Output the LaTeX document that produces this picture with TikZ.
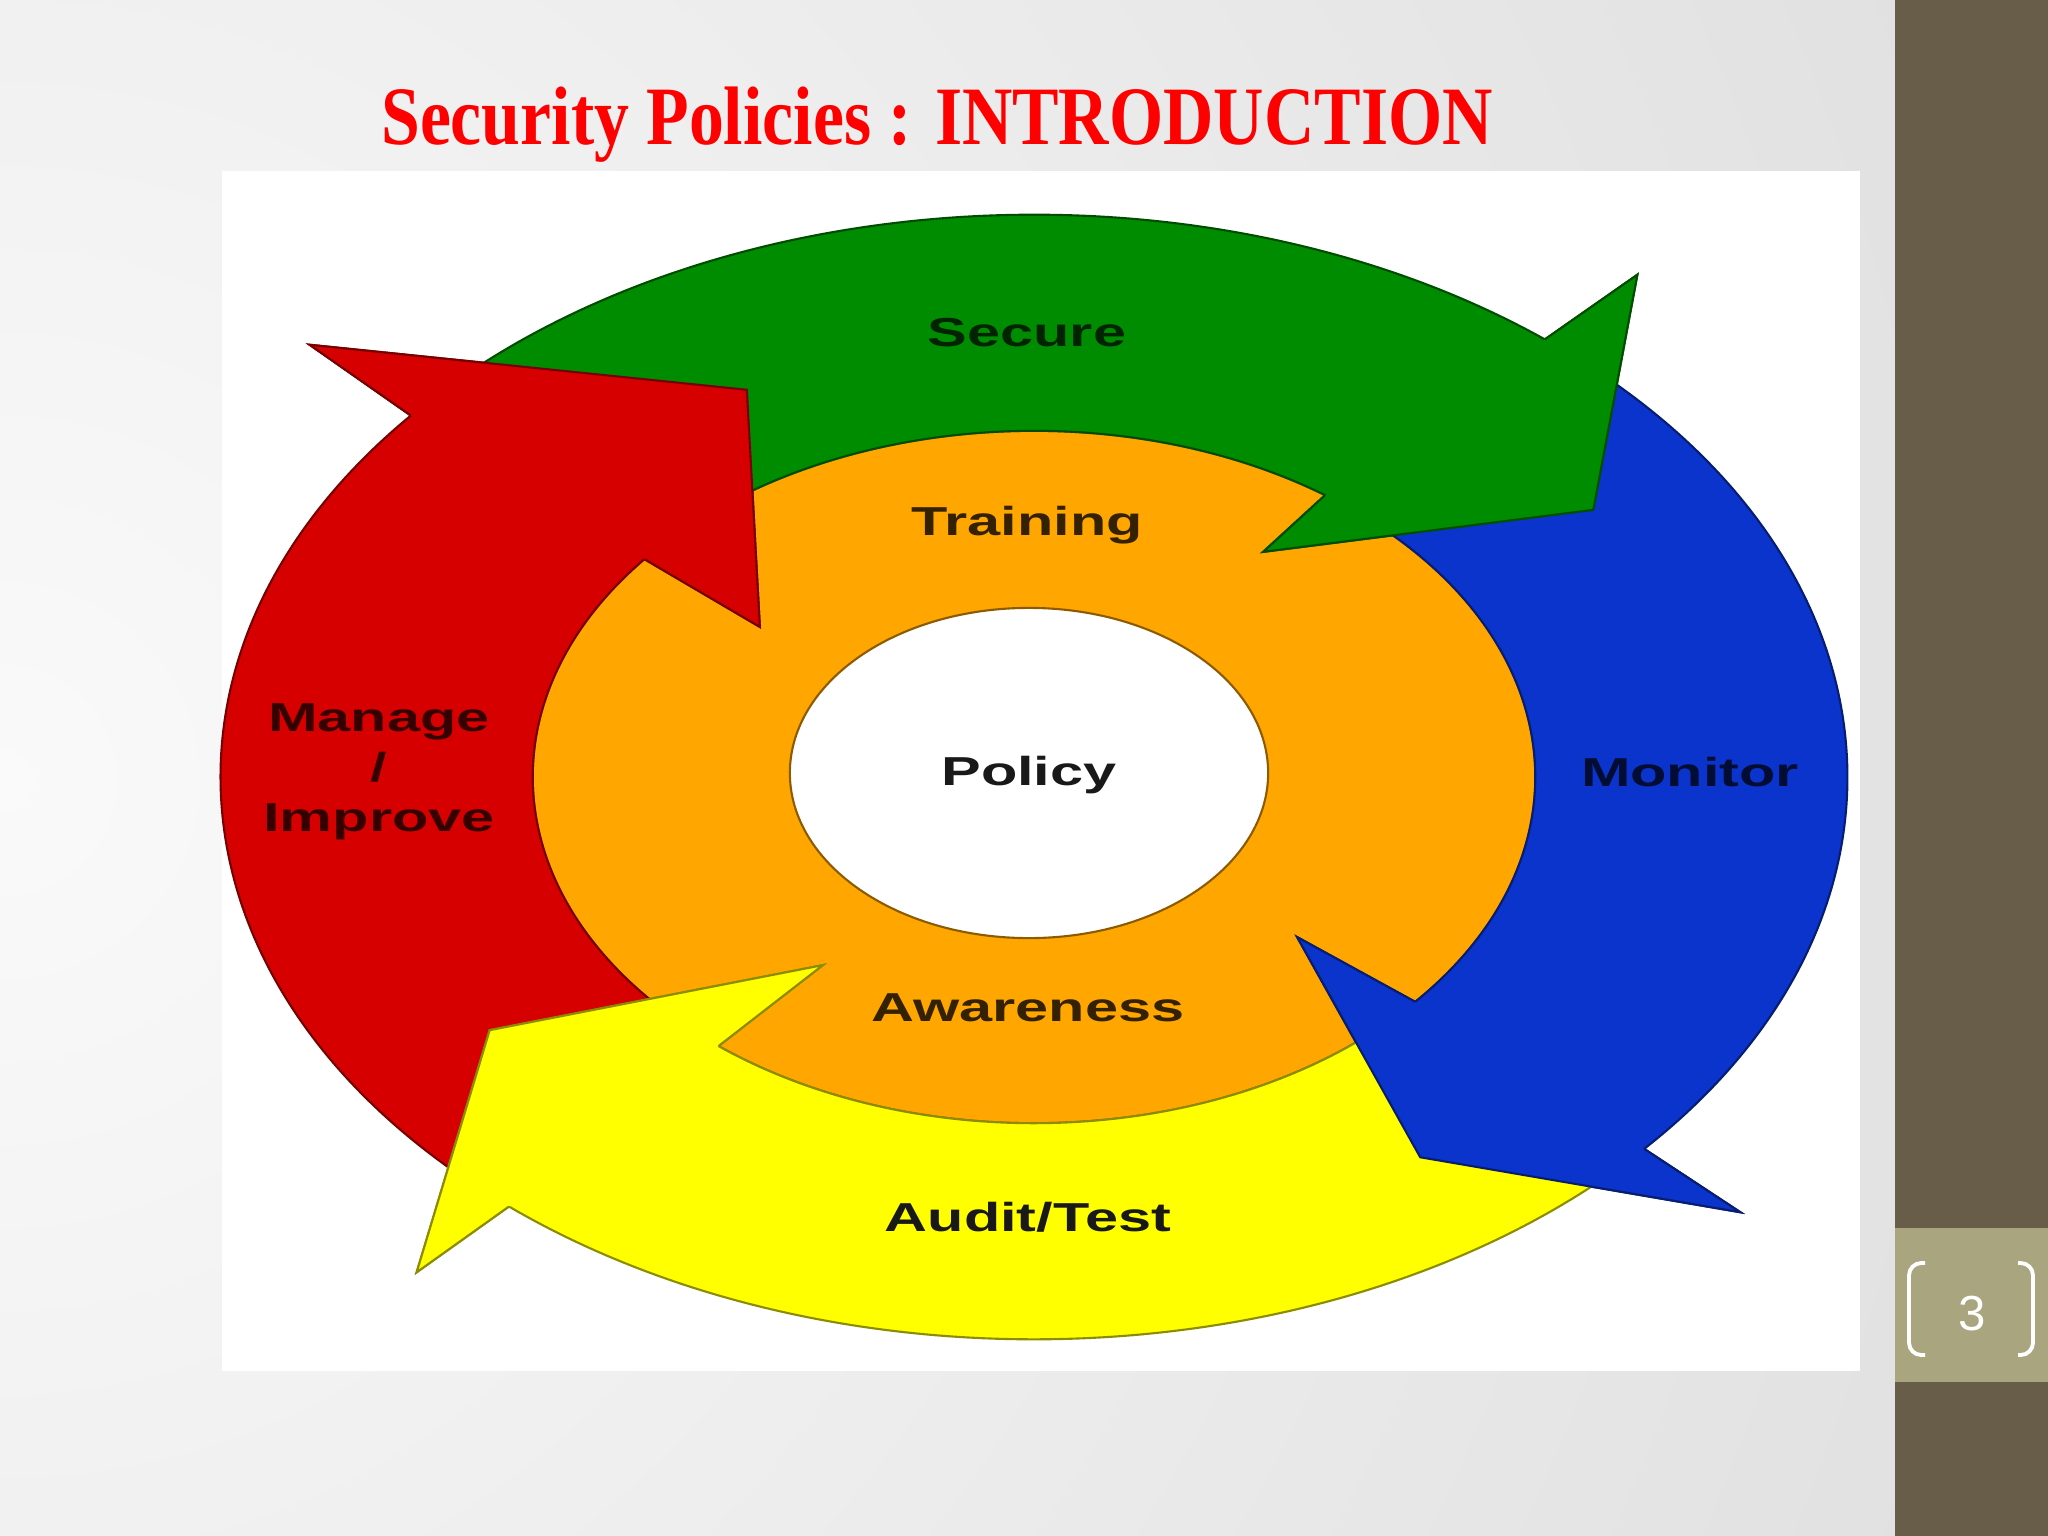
\documentclass[tikz,border=0pt]{standalone}
\usepackage{fontspec}
\setmainfont{Liberation Serif}
\setsansfont{Liberation Sans}
\usetikzlibrary{positioning}

\definecolor{slidebar}{RGB}{103,93,72}
\definecolor{pagebox}{RGB}{169,165,127}
\definecolor{securegreen}{RGB}{0,140,0}
\definecolor{monitorblue}{RGB}{10,52,204}
\definecolor{managered}{RGB}{214,0,0}
\definecolor{audityellow}{RGB}{255,255,0}
\definecolor{ringorange}{RGB}{255,166,0}

\begin{document}
\begin{tikzpicture}[x=0.01cm, y=0.01cm,
    ringarrow/.style={fill=#1, draw=#1!55!black, line width=0.6pt},
    ringtext/.style={font=\sffamily\bfseries\fontsize{11.5}{14.2}\selectfont, xscale=1.47, transform shape, inner sep=0pt, anchor=base}]
    \useasboundingbox (0,0) rectangle (2048,-1536);
    %Slide
    \begin{scope}
        \clip (0,0) rectangle (1895,-1536);
        \shade[inner color=black!2, outer color=black!19] (0,-780) circle (36cm);
    \end{scope}
    \fill[slidebar] (1895,0) rectangle (2048,-1536);
    \fill[pagebox] (1895,-1228) rectangle (2048,-1382);
    \fill[white] (222,-171) rectangle (1860,-1371);

    %Cycle
    \begin{scope}[shift={(1034,-777)}, x=1cm, y=1cm]
        \coordinate (managebarbout) at (-7.24,4.32);
        \coordinate (managetip)     at (-2.87,3.87);
        \coordinate (managebarbin)  at (-2.74,1.50);
        \coordinate (securebarbout) at (6.03,5.02);
        \coordinate (securetip)     at (5.59,2.67);
        \coordinate (securebarbin)  at (2.29,2.25);
        \coordinate (monitorbarbout) at (7.06,-4.35);
        \coordinate (monitortip)     at (3.86,-3.80);
        \coordinate (monitorbarbin)  at (2.63,-1.60);
        \coordinate (auditbarbout) at (-6.17,-4.95);
        \coordinate (audittip)     at (-5.44,-2.53);
        \coordinate (auditbarbin)  at (-2.11,-1.88);

        % inner ring and policy
        \filldraw[fill=ringorange, draw=ringorange!55!black, line width=0.6pt] (0,0) ellipse[x radius=5.01cm, y radius=3.46cm];
        \filldraw[fill=white, draw=ringorange!55!black, line width=0.6pt] (-0.05,0.04) ellipse[x radius=2.39cm, y radius=1.65cm];

        % outer arrows
        \filldraw[ringarrow=managered] (226:8.13 and 5.62) arc[start angle=226, end angle=140, x radius=8.13cm, y radius=5.62cm]
            -- (managebarbout) -- (managetip) -- (managebarbin) -- (141:5.01 and 3.46)
            arc[start angle=141, end angle=226, x radius=5.01cm, y radius=3.46cm] -- cycle;
        \filldraw[ringarrow=securegreen] (136:8.13 and 5.62) arc[start angle=136, end angle=51.1, x radius=8.13cm, y radius=5.62cm]
            -- (securebarbout) -- (securetip) -- (securebarbin) -- (54.5:5.01 and 3.46)
            arc[start angle=54.5, end angle=136, x radius=5.01cm, y radius=3.46cm] -- cycle;
        \filldraw[ringarrow=monitorblue] (48:8.13 and 5.62) arc[start angle=48, end angle=-41.4, x radius=8.13cm, y radius=5.62cm]
            -- (monitorbarbout) -- (monitortip) -- (monitorbarbin) -- (-40.5:5.01 and 3.46)
            arc[start angle=-40.5, end angle=48, x radius=5.01cm, y radius=3.46cm] -- cycle;
        \filldraw[ringarrow=audityellow] (-44:8.13 and 5.62) arc[start angle=-44, end angle=-130.2, x radius=8.13cm, y radius=5.62cm]
            -- (auditbarbout) -- (audittip) -- (auditbarbin) -- (-129:5.01 and 3.46)
            arc[start angle=-129, end angle=-44, x radius=5.01cm, y radius=3.46cm] -- cycle;

        % heads over the next tail
        \filldraw[ringarrow=managered] (140:8.13 and 5.62) -- (managebarbout) -- (managetip) -- (managebarbin) -- (141:5.01 and 3.46);
        \filldraw[ringarrow=securegreen] (51.1:8.13 and 5.62) -- (securebarbout) -- (securetip) -- (securebarbin) -- (54.5:5.01 and 3.46);
        \filldraw[ringarrow=monitorblue] (-41.4:8.13 and 5.62) -- (monitorbarbout) -- (monitortip) -- (monitorbarbin) -- (-40.5:5.01 and 3.46);
        \filldraw[ringarrow=audityellow] (-130.2:8.13 and 5.62) -- (auditbarbout) -- (audittip) -- (auditbarbin) -- (-129:5.01 and 3.46);
    \end{scope}

    %Nodes
    \node[ringtext, text=securegreen!25!black] (secure) at (1027,-346) {Secure};
    \node[ringtext, text=monitorblue!25!black] (monitor) at (1690,-786) {Monitor};
    \node[ringtext, text=black!90] (audittest) at (1028,-1231) {Audit/Test};
    \node[ringtext, text=managered!25!black, anchor=center, align=center] (manage) at (379,-772) {Manage\\/\\Improve};
    \node[ringtext, text=ringorange!20!black] (training) at (1027,-535) {Training};
    \node[ringtext, text=ringorange!20!black] (awareness) at (1028,-1021) {Awareness};
    \node[ringtext, text=black!90] (policy) at (1029,-785) {Policy};

    \node[anchor=base, text=red, font=\bfseries\fontsize{23.6}{28}\selectfont, xscale=0.84, transform shape] (title) at (937,-144) {Security Policies : INTRODUCTION};

    \node[text=white, font=\sffamily\fontsize{14}{16}\selectfont] (pagenum) at (1972,-1314) {3};
    \draw[white, line width=1.1pt, rounded corners=3.5pt] (1925,-1263) -- (1909,-1263) -- (1909,-1355) -- (1925,-1355);
    \draw[white, line width=1.1pt, rounded corners=3.5pt] (2018,-1263) -- (2033,-1263) -- (2033,-1355) -- (2018,-1355);
\end{tikzpicture}
\end{document}
